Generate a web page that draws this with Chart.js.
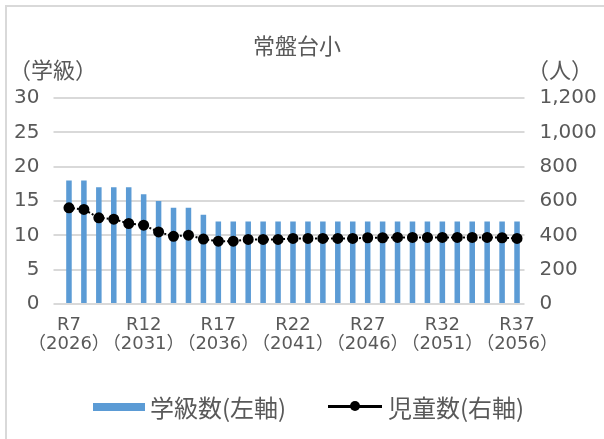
<!DOCTYPE html>
<html lang="ja">
<head>
<meta charset="utf-8">
<script src="https://cdn.jsdelivr.net/npm/chart.js@4/dist/chart.umd.min.js"></script>
<style>
  html, body { margin: 0; padding: 0; background: #fff; }
  #wrap { position: relative; width: 604px; height: 439px; overflow: hidden; font-family: 'Noto Sans CJK JP', sans-serif; color: #595959; }
  #frame { position: absolute; left: 5px; top: 5px; width: 640px; height: 480px; border: 2px solid #d9d9d9; box-sizing: border-box; }
  #chart { position: absolute; left: 0; top: 0; }
  .txt { position: absolute; white-space: nowrap; line-height: 1; }
  #title { left: 0; width: 594px; text-align: center; top: 33px; font-size: 22px; }
  #unitL { left: 9px; top: 57px; font-size: 22px; }
  #unitR { left: 527px; top: 57px; font-size: 22px; }
  .leg { top: 395px; font-size: 24px; }
  .swatch { position: absolute; }
</style>
</head>
<body>
<div id="wrap">
  <div id="frame"></div>
  <canvas id="chart" width="604" height="439"></canvas>
  <div class="txt" id="title">常盤台小</div>
  <div class="txt" id="unitL">（学級）</div>
  <div class="txt" id="unitR">（人）</div>
  <div class="swatch" style="left:93px;top:403px;width:52px;height:8px;background:#5b9bd5"></div>
  <div class="txt leg" style="left:150px">学級数(左軸)</div>
  <div class="swatch" style="left:328px;top:405px;width:54px;height:2.5px;background:#000"></div>
  <div class="swatch" style="left:350px;top:401px;width:10px;height:10px;border-radius:50%;background:#000"></div>
  <div class="txt leg" style="left:388px">児童数(右軸)</div>
</div>
<script>
// 令和年度と西暦
const reiwaYears = [7, 8, 9, 10, 11, 12, 13, 14, 15, 16, 17, 18, 19, 20, 21, 22, 23, 24, 25, 26, 27, 28, 29, 30, 31, 32, 33, 34, 35, 36, 37];
const westernYears = [2026, 2027, 2028, 2029, 2030, 2031, 2032, 2033, 2034, 2035, 2036, 2037, 2038, 2039, 2040, 2041, 2042, 2043, 2044, 2045, 2046, 2047, 2048, 2049, 2050, 2051, 2052, 2053, 2054, 2055, 2056];

// 学級数（左軸）
const classCounts = [18, 18, 17, 17, 17, 16, 15, 14, 14, 13, 12, 12, 12, 12, 12, 12, 12, 12, 12, 12, 12, 12, 12, 12, 12, 12, 12, 12, 12, 12, 12];
// 児童数（右軸）
const pupilCounts = [560, 551, 502, 494, 469, 459, 420, 394, 401, 378, 366, 366, 376, 376, 376, 382, 382, 382, 382, 382, 386, 386, 388, 388, 388, 388, 388, 388, 388, 386, 382];

const leftTicks = [0, 5, 10, 15, 20, 25, 30];
const rightTicks = [0, 200, 400, 600, 800, 1000, 1200];

const labels = reiwaYears.map((r, i) => ['R' + r, '（' + westernYears[i] + '）']);

const tickFont = { family: "'DejaVu Sans', 'Noto Sans CJK JP'", size: 20 };
const gray = '#595959';

const ctx = document.getElementById('chart').getContext('2d');
new Chart(ctx, {
  data: {
    labels: labels,
    datasets: [
      {
        type: 'line',
        label: '児童数(右軸)',
        data: pupilCounts,
        yAxisID: 'y1',
        order: 0,
        borderColor: '#000',
        borderWidth: 2,
        borderDash: [2, 2],
        tension: 0,
        pointRadius: 4.5,
        pointBackgroundColor: '#000',
        pointBorderColor: '#000'
      },
      {
        type: 'bar',
        label: '学級数(左軸)',
        data: classCounts,
        yAxisID: 'y',
        order: 1,
        backgroundColor: '#5b9bd5',
        categoryPercentage: 1,
        barPercentage: 0.37
      }
    ]
  },
  options: {
    responsive: false,
    animation: false,
    layout: { padding: { top: 98, left: 0, right: 0, bottom: 0 } },
    plugins: { legend: { display: false }, tooltip: { enabled: false } },
    scales: {
      x: {
        offset: true,
        grid: { display: false, drawTicks: false },
        border: { display: false },
        ticks: {
          autoSkip: false,
          maxRotation: 0,
          padding: 11,
          color: gray,
          font: { family: tickFont.family, size: 18, lineHeight: 1.1 },
          callback: function (value, index) {
            return index % 5 === 0 ? labels[index] : '';
          }
        },
        afterFit: function (scale) { scale.height = 135; }
      },
      y: {
        position: 'left',
        min: 0,
        max: 30,
        afterBuildTicks: function (scale) { scale.ticks = leftTicks.map(v => ({ value: v })); },
        grid: { color: '#d9d9d9', lineWidth: 2, tickLength: 8 },
        border: { display: false },
        ticks: { color: gray, font: tickFont, padding: 14 },
        afterFit: function (scale) { scale.width = 61.5; }
      },
      y1: {
        position: 'right',
        min: 0,
        max: 1200,
        afterBuildTicks: function (scale) { scale.ticks = rightTicks.map(v => ({ value: v })); },
        grid: { display: false, drawTicks: false },
        border: { display: false },
        ticks: {
          color: gray,
          font: tickFont,
          padding: 15,
          callback: function (value) { return value.toLocaleString('en-US'); }
        },
        afterFit: function (scale) { scale.width = 79.5; }
      }
    }
  }
});
</script>
</body>
</html>
